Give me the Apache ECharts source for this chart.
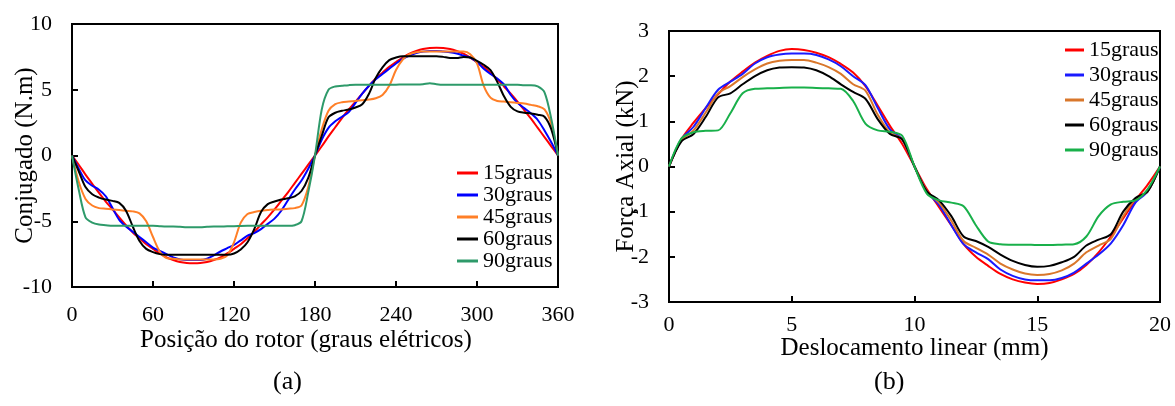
<!DOCTYPE html>
<html>
<head>
    <meta charset="utf-8">
    <title>Conjugado e Força Axial</title>
    <script type="text/javascript" src="https://cdn.jsdelivr.net/npm/echarts@6/dist/echarts.min.js"></script>
    <style>
        body { margin: 0; background: #fff; }
    </style>
</head>
<body>
<div id="main" style="width: 1175px; height: 406px;"></div>
<script type="text/javascript">
    var legendNames = ['15graus', '30graus', '45graus', '60graus', '90graus'];

    // (a) conjugado x posicao do rotor, de 5 em 5 graus eletricos
    var angulo = [0, 5, 10, 15, 20, 25, 30, 35, 40, 45, 50, 55, 60, 65, 70, 75, 80, 85, 90,
        95, 100, 105, 110, 115, 120, 125, 130, 135, 140, 145, 150, 155, 160, 165, 170, 175, 180,
        185, 190, 195, 200, 205, 210, 215, 220, 225, 230, 235, 240, 245, 250, 255, 260, 265, 270,
        275, 280, 285, 290, 295, 300, 305, 310, 315, 320, 325, 330, 335, 340, 345, 350, 355, 360];
    var conj15 = [0, -0.7, -1.45, -2.15, -2.85, -3.5, -4.1, -4.7, -5.3, -5.85, -6.3, -6.75, -7.1, -7.45, -7.75, -7.95, -8.1, -8.18, -8.2,
        -8.18, -8.1, -7.95, -7.75, -7.45, -7.1, -6.75, -6.3, -5.8, -5.25, -4.7, -4.1, -3.45, -2.8, -2.1, -1.4, -0.7, 0,
        0.7, 1.45, 2.15, 2.85, 3.5, 4.1, 4.7, 5.3, 5.85, 6.3, 6.75, 7.1, 7.45, 7.75, 7.95, 8.1, 8.18, 8.2,
        8.18, 8.1, 7.95, 7.75, 7.45, 7.1, 6.75, 6.3, 5.8, 5.25, 4.7, 4.1, 3.45, 2.8, 2.1, 1.4, 0.7, 0];
    var conj30 = [0, -1.0, -1.9, -2.3, -2.6, -3.1, -4.0, -4.9, -5.4, -5.8, -6.2, -6.6, -7.0, -7.25, -7.5, -7.75, -7.9, -7.95, -7.95,
        -7.95, -7.85, -7.6, -7.3, -7.05, -6.8, -6.45, -6.1, -5.9, -5.6, -5.2, -4.8, -4.2, -3.4, -2.6, -1.9, -1.0, 0,
        1.2, 2.1, 2.6, 2.95, 3.3, 4.0, 4.7, 5.3, 5.8, 6.2, 6.6, 7.0, 7.35, 7.6, 7.8, 7.9, 7.95, 7.95,
        7.9, 7.85, 7.75, 7.6, 7.45, 7.1, 6.6, 6.2, 5.85, 5.4, 4.6, 4.0, 3.6, 3.2, 2.7, 1.9, 1.0, 0];
    var conj45 = [0, -2.0, -3.3, -3.8, -4.0, -4.05, -4.1, -4.15, -4.2, -4.25, -4.4, -5.0, -6.2, -7.3, -7.8, -7.85, -7.9, -7.9, -7.9,
        -7.9, -7.9, -7.9, -7.85, -7.6, -6.6, -5.1, -4.45, -4.3, -4.2, -4.15, -4.1, -4.1, -4.05, -4.0, -3.8, -2.4, 0,
        2.0, 3.4, 3.9, 4.05, 4.1, 4.15, 4.2, 4.25, 4.35, 4.6, 5.3, 6.5, 7.3, 7.7, 7.85, 7.9, 7.9, 7.9,
        7.9, 7.9, 7.9, 7.9, 7.7, 7.0, 5.3, 4.4, 4.15, 4.1, 4.05, 4.0, 3.95, 3.85, 3.75, 3.5, 2.4, 0];
    var conj60 = [0, -1.2, -2.4, -2.95, -3.2, -3.35, -3.45, -3.6, -4.2, -5.4, -6.5, -7.1, -7.35, -7.5, -7.55, -7.55, -7.55, -7.55, -7.55,
        -7.55, -7.55, -7.55, -7.55, -7.55, -7.45, -7.15, -6.6, -5.6, -4.3, -3.7, -3.5, -3.35, -3.25, -3.1, -2.7, -1.7, 0,
        1.5, 2.9, 3.25, 3.4, 3.5, 3.65, 3.9, 4.7, 5.9, 6.7, 7.25, 7.45, 7.55, 7.55, 7.55, 7.55, 7.55, 7.55,
        7.5, 7.42, 7.42, 7.5, 7.45, 7.2, 6.9, 6.5, 5.6, 4.5, 3.7, 3.35, 3.25, 3.2, 3.1, 2.95, 2.0, 0];
    var conj90 = [0, -2.6, -4.7, -5.1, -5.25, -5.3, -5.35, -5.35, -5.35, -5.35, -5.35, -5.35, -5.35, -5.38, -5.4, -5.4, -5.42, -5.45, -5.45,
        -5.45, -5.42, -5.4, -5.4, -5.38, -5.38, -5.36, -5.35, -5.35, -5.35, -5.35, -5.35, -5.35, -5.35, -5.3, -5.0, -2.8, 0,
        3.5, 5.0, 5.25, 5.3, 5.35, 5.38, 5.38, 5.38, 5.38, 5.38, 5.38, 5.38, 5.4, 5.4, 5.4, 5.42, 5.5, 5.42,
        5.38, 5.38, 5.38, 5.38, 5.38, 5.38, 5.38, 5.38, 5.38, 5.38, 5.38, 5.38, 5.35, 5.35, 5.25, 4.8, 2.8, 0];

    // (b) forca axial x deslocamento linear, de 0,5 em 0,5 mm
    var desloc = [0, 0.5, 1, 1.5, 2, 2.5, 3, 3.5, 4, 4.5, 5, 5.5, 6, 6.5, 7, 7.5, 8, 8.5, 9, 9.5, 10,
        10.5, 11, 11.5, 12, 12.5, 13, 13.5, 14, 14.5, 15, 15.5, 16, 16.5, 17, 17.5, 18, 18.5, 19, 19.5, 20];
    var forca15 = [0, 0.6, 0.97, 1.3, 1.6, 1.88, 2.1, 2.3, 2.45, 2.56, 2.6, 2.58, 2.52, 2.42, 2.27, 2.08, 1.78, 1.35, 0.9, 0.5, 0,
        -0.5, -0.9, -1.3, -1.72, -2.0, -2.2, -2.38, -2.5, -2.57, -2.6, -2.58, -2.5, -2.38, -2.18, -1.9, -1.55, -1.15, -0.75, -0.4, 0];
    var forca30 = [0, 0.6, 0.88, 1.3, 1.7, 1.88, 2.05, 2.28, 2.42, 2.48, 2.5, 2.5, 2.47, 2.37, 2.22, 2.0, 1.8, 1.3, 0.82, 0.6, 0,
        -0.55, -0.85, -1.3, -1.72, -1.9, -2.05, -2.28, -2.42, -2.5, -2.52, -2.52, -2.47, -2.35, -2.15, -1.95, -1.7, -1.3, -0.8, -0.55, 0];
    var forca45 = [0, 0.58, 0.8, 1.2, 1.62, 1.78, 1.98, 2.15, 2.28, 2.34, 2.36, 2.36, 2.3, 2.2, 2.05, 1.82, 1.68, 1.15, 0.75, 0.6, 0,
        -0.55, -0.8, -1.2, -1.65, -1.8, -1.95, -2.15, -2.28, -2.37, -2.4, -2.38, -2.3, -2.15, -1.9, -1.75, -1.6, -1.1, -0.72, -0.55, 0];
    var forca60 = [0, 0.55, 0.72, 1.1, 1.53, 1.62, 1.82, 2.0, 2.13, 2.19, 2.2, 2.19, 2.13, 2.0, 1.82, 1.65, 1.5, 1.05, 0.72, 0.6, 0,
        -0.55, -0.75, -1.1, -1.55, -1.65, -1.78, -1.95, -2.09, -2.18, -2.22, -2.2, -2.12, -2.0, -1.75, -1.62, -1.5, -1.0, -0.7, -0.55, 0];
    var forca90 = [0, 0.62, 0.76, 0.79, 0.8, 1.18, 1.62, 1.72, 1.73, 1.74, 1.75, 1.75, 1.74, 1.73, 1.72, 1.45, 0.95, 0.8, 0.77, 0.68, 0,
        -0.6, -0.75, -0.8, -0.88, -1.3, -1.66, -1.72, -1.73, -1.73, -1.74, -1.74, -1.73, -1.72, -1.55, -1.1, -0.84, -0.78, -0.75, -0.5, 0];

    var coresA = ['#ff0000', '#0000ff', '#ff7f27', '#000000', '#2e9a6a'];
    var coresB = ['#ff0000', '#1a1aff', '#d9772b', '#000000', '#19b04a'];
    var fonte = '"Liberation Serif", "Times New Roman", serif';

    function pares(xs, ys) {
        var out = [];
        for (var i = 0; i < xs.length; i++) {
            out.push([xs[i], ys[i]]);
        }
        return out;
    }

    function eixoX(idx, min, max, interval, name, gap, labelMargin, pad) {
        return {
            gridIndex: idx, type: 'value', min: min, max: max, interval: interval,
            name: name, nameLocation: 'middle', nameGap: gap, nameMoveOverlap: false,
            nameTextStyle: {fontFamily: fonte, fontSize: 25, color: '#000', padding: pad},
            axisLine: {onZero: false, lineStyle: {color: '#000', width: 2}},
            axisTick: {inside: true, length: 6, lineStyle: {color: '#000', width: 2}},
            axisLabel: {fontFamily: fonte, fontSize: 22, color: '#000', margin: labelMargin},
            splitLine: {show: false}
        };
    }

    function eixoY(idx, min, max, interval, name, gap) {
        return {
            gridIndex: idx, type: 'value', min: min, max: max, interval: interval,
            name: name, nameLocation: 'middle', nameGap: gap, nameMoveOverlap: false,
            nameTextStyle: {fontFamily: fonte, fontSize: 25, color: '#000'},
            axisLine: {onZero: false, lineStyle: {color: '#000', width: 2}},
            axisTick: {inside: true, length: 6, lineStyle: {color: '#000', width: 2}},
            axisLabel: {fontFamily: fonte, fontSize: 22, color: '#000', margin: 20},
            splitLine: {show: false}
        };
    }

    var series = [];
    var conjs = [conj15, conj30, conj45, conj60, conj90];
    var forcas = [forca15, forca30, forca45, forca60, forca90];
    for (var k = 0; k < 5; k++) {
        series.push({
            name: legendNames[k], type: 'line', xAxisIndex: 0, yAxisIndex: 0,
            data: pares(angulo, conjs[k]), showSymbol: false, smooth: 0.3,
            lineStyle: {color: coresA[k], width: 2}, itemStyle: {color: coresA[k]}
        });
    }
    for (var k = 0; k < 5; k++) {
        series.push({
            name: legendNames[k] + ' ', type: 'line', xAxisIndex: 1, yAxisIndex: 1,
            data: pares(desloc, forcas[k]), showSymbol: false, smooth: 0.3,
            lineStyle: {color: coresB[k], width: 2}, itemStyle: {color: coresB[k]}
        });
    }

    var chart = echarts.init(document.getElementById('main'));
    var option = {
        animation: false,
        backgroundColor: '#fff',
        grid: [
            {left: 72, top: 24, width: 486, height: 263, show: true, borderColor: '#000', borderWidth: 2,
                outerBoundsMode: 'none', containLabel: false},
            {left: 669, top: 31, width: 491, height: 271, show: true, borderColor: '#000', borderWidth: 2,
                outerBoundsMode: 'none', containLabel: false}
        ],
        xAxis: [
            eixoX(0, 0, 360, 60, 'Posição do rotor (graus elétricos)', 41, 17, [0, 18, 0, 0]),
            eixoX(1, 0, 20, 5, 'Deslocamento linear (mm)', 34, 12, 0)
        ],
        yAxis: [
            eixoY(0, -10, 10, 5, 'Conjugado (N.m)', 34),
            eixoY(1, -3, 3, 1, 'Força Axial (kN)', 30)
        ],
        legend: [
            {
                data: legendNames, orient: 'vertical', left: 452, top: 157,
                icon: 'rect', itemWidth: 21, itemHeight: 3, itemGap: 0,
                textStyle: {fontFamily: fonte, fontSize: 22, color: '#000', lineHeight: 22}
            },
            {
                data: legendNames.map(function (n) { return n + ' '; }),
                orient: 'vertical', left: 1060, top: 34,
                icon: 'rect', itemWidth: 19, itemHeight: 3, itemGap: 3,
                textStyle: {fontFamily: fonte, fontSize: 22, color: '#000', lineHeight: 22}
            }
        ],
        graphic: [
            {type: 'text', left: 273, top: 369, style: {text: '(a)', font: '26px ' + fonte, fill: '#000'}},
            {type: 'text', left: 874, top: 369, style: {text: '(b)', font: '26px ' + fonte, fill: '#000'}}
        ],
        series: series
    };
    chart.setOption(option);
</script>
</body>
</html>
